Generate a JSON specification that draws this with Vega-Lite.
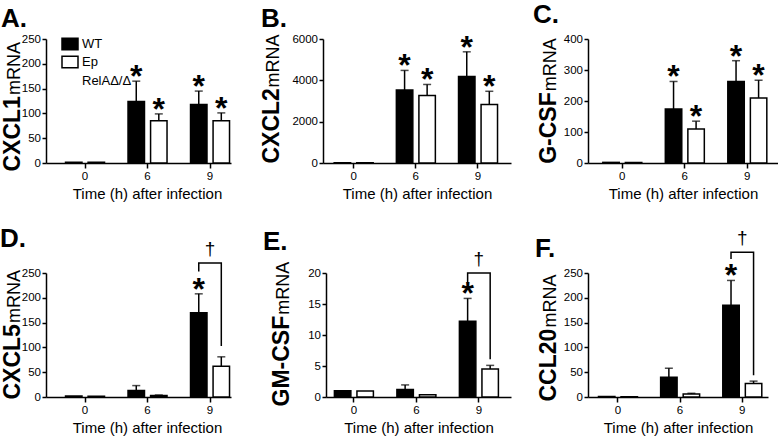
{
  "$schema": "https://vega.github.io/schema/vega-lite/v6.json",
  "padding": {"top": 1, "left": 0, "right": 0, "bottom": 0},
  "background": "white",
  "spacing": 23,
  "config": {
    "view": {"stroke": null},
    "font": "Liberation Sans",
    "axis": {"grid": false, "domainColor": "black", "domainWidth": 1.5, "tickColor": "black", "tickWidth": 1.5, "labelColor": "black", "labelFont": "Liberation Sans", "labelFontSize": 11.5, "titleColor": "black", "titleFont": "Liberation Sans"},
    "axisX": {"tickSize": 5, "labelPadding": 2, "labelAngle": 0, "titleFontSize": 15, "titleFontWeight": "normal", "titlePadding": 5},
    "axisY": {"tickSize": 4, "labelPadding": 1.5, "titleFontSize": 23, "titleFontWeight": "bold", "titleAngle": -90, "titleAlign": "left", "titleBaseline": "alphabetic"},
    "title": {"fontSize": 26, "fontWeight": "bold", "color": "black", "anchor": "start", "frame": "group", "orient": "bottom", "baseline": "alphabetic", "offset": 0}
  },
  "datasets": {
    "A": [
      {"time": "0", "group": "WT", "mean": 1.5, "up": 1.5, "star": ""},
      {"time": "0", "group": "Ep", "mean": 1.5, "up": 1.5, "star": ""},
      {"time": "6", "group": "WT", "mean": 124, "up": 165, "star": "*"},
      {"time": "6", "group": "Ep", "mean": 85, "up": 99, "star": "*"},
      {"time": "9", "group": "WT", "mean": 118, "up": 145, "star": "*"},
      {"time": "9", "group": "Ep", "mean": 85, "up": 101, "star": "*"}
    ],
    "B": [
      {"time": "0", "group": "WT", "mean": 10, "up": 10, "star": ""},
      {"time": "0", "group": "Ep", "mean": 10, "up": 10, "star": ""},
      {"time": "6", "group": "WT", "mean": 3530, "up": 4480, "star": "*"},
      {"time": "6", "group": "Ep", "mean": 3270, "up": 3800, "star": "*"},
      {"time": "9", "group": "WT", "mean": 4180, "up": 5380, "star": "*"},
      {"time": "9", "group": "Ep", "mean": 2830, "up": 3470, "star": "*"}
    ],
    "C": [
      {"time": "0", "group": "WT", "mean": 2, "up": 2, "star": ""},
      {"time": "0", "group": "Ep", "mean": 2, "up": 2, "star": ""},
      {"time": "6", "group": "WT", "mean": 174, "up": 263, "star": "*"},
      {"time": "6", "group": "Ep", "mean": 110, "up": 135, "star": "*"},
      {"time": "9", "group": "WT", "mean": 263, "up": 330, "star": "*"},
      {"time": "9", "group": "Ep", "mean": 210, "up": 267, "star": "*"}
    ],
    "D": [
      {"time": "0", "group": "WT", "mean": 2, "up": 2, "star": ""},
      {"time": "0", "group": "Ep", "mean": 1.5, "up": 1.5, "star": ""},
      {"time": "6", "group": "WT", "mean": 13, "up": 23, "star": ""},
      {"time": "6", "group": "Ep", "mean": 3, "up": 4, "star": ""},
      {"time": "9", "group": "WT", "mean": 170, "up": 208, "star": "*"},
      {"time": "9", "group": "Ep", "mean": 62, "up": 81, "star": ""}
    ],
    "E": [
      {"time": "0", "group": "WT", "mean": 1.0, "up": 1.0, "star": ""},
      {"time": "0", "group": "Ep", "mean": 0.95, "up": 0.95, "star": ""},
      {"time": "6", "group": "WT", "mean": 1.2, "up": 1.95, "star": ""},
      {"time": "6", "group": "Ep", "mean": 0.35, "up": 0.35, "star": ""},
      {"time": "9", "group": "WT", "mean": 12.2, "up": 15.9, "star": "*"},
      {"time": "9", "group": "Ep", "mean": 4.5, "up": 5.1, "star": ""}
    ],
    "F": [
      {"time": "0", "group": "WT", "mean": 1, "up": 1, "star": ""},
      {"time": "0", "group": "Ep", "mean": 0.5, "up": 0.5, "star": ""},
      {"time": "6", "group": "WT", "mean": 40, "up": 58, "star": ""},
      {"time": "6", "group": "Ep", "mean": 6, "up": 7.5, "star": ""},
      {"time": "9", "group": "WT", "mean": 185, "up": 235, "star": "*"},
      {"time": "9", "group": "Ep", "mean": 27, "up": 32, "star": ""}
    ],
    "brD": [
      {"time": "9", "group": "WT", "y": 253, "o": 1},
      {"time": "9", "group": "WT", "y": 270, "o": 2},
      {"time": "9", "group": "Ep", "y": 270, "o": 3},
      {"time": "9", "group": "Ep", "y": 103, "o": 4}
    ],
    "brE": [
      {"time": "9", "group": "WT", "y": 18.5, "o": 1},
      {"time": "9", "group": "WT", "y": 20, "o": 2},
      {"time": "9", "group": "Ep", "y": 20, "o": 3},
      {"time": "9", "group": "Ep", "y": 6.1, "o": 4}
    ],
    "brF": [
      {"time": "9", "group": "WT", "y": 278, "o": 1},
      {"time": "9", "group": "WT", "y": 292, "o": 2},
      {"time": "9", "group": "Ep", "y": 292, "o": 3},
      {"time": "9", "group": "Ep", "y": 44, "o": 4}
    ],
    "dgD": [{"time": "9", "y": 270, "mark": "†"}],
    "dgE": [{"time": "9", "y": 20, "mark": "†"}],
    "dgF": [{"time": "9", "y": 292, "mark": "†"}]
  },
  "vconcat": [
    {
      "bounds": "flush",
      "spacing": 92,
      "hconcat": [
        {
          "width": 185,
          "height": 124,
          "title": {"text": "A.", "dx": -45, "dy": -200},
          "encoding": {
            "x": {"field": "time", "type": "nominal", "sort": ["0", "6", "9"], "scale": {"paddingInner": 0.376, "paddingOuter": 0.168, "align": 0.93}, "axis": {"title": "Time (h) after infection", "titleX": 101}}
          },
          "layer": [
            {
              "data": {"name": "A"},
              "mark": {"type": "bar", "stroke": "black", "strokeWidth": 1.5},
              "encoding": {
                "xOffset": {"field": "group", "type": "nominal", "sort": ["WT", "Ep"], "scale": {"paddingInner": 0.27, "paddingOuter": 0}},
                "y": {"field": "mean", "type": "quantitative", "scale": {"domain": [0, 250], "nice": false}, "axis": {"values": [0, 50, 100, 150, 200, 250], "title": "CXCL1", "titleX": -27, "titleY": 132}},
                "fill": {
                  "field": "group", "type": "nominal",
                  "scale": {"domain": ["WT", "Ep"], "range": ["black", "white"]},
                  "legend": {"orient": "none", "legendX": 15, "legendY": -4, "title": null, "symbolType": "M-1,-0.72H1V0.72H-1Z", "symbolSize": 256, "symbolStrokeColor": "black", "symbolStrokeWidth": 1.5, "labelFontSize": 13, "labelColor": "black", "labelOffset": 3, "rowPadding": -17, "padding": 0, "labelLimit": 200, "labelExpr": "datum.label == 'Ep' ? ['Ep', 'RelAΔ/Δ'] : datum.label", "encode": {"labels": {"update": {"lineHeight": {"value": 19}}}}}
                }
              }
            },
            {
              "data": {"name": "A"},
              "transform": [{"filter": "datum.up > datum.mean"}],
              "mark": {"type": "rule", "color": "black", "strokeWidth": 1.5},
              "encoding": {
                "xOffset": {"field": "group", "type": "nominal", "sort": ["WT", "Ep"]},
                "y": {"field": "mean", "type": "quantitative", "axis": {"orient": "left", "title": "mRNA", "titleFontSize": 18, "titleFontWeight": "normal", "titleX": -27, "titleY": 55.6, "labels": false, "ticks": false, "domain": false}},
                "y2": {"field": "up"}
              }
            },
            {
              "data": {"name": "A"},
              "transform": [{"filter": "datum.up > datum.mean"}],
              "mark": {"type": "tick", "color": "black", "size": 8, "thickness": 1.5},
              "encoding": {
                "xOffset": {"field": "group", "type": "nominal", "sort": ["WT", "Ep"]},
                "y": {"field": "up", "type": "quantitative", "axis": null}
              }
            },
            {
              "data": {"name": "A"},
              "transform": [{"filter": "datum.star == '*'"}],
              "mark": {"type": "text", "fontSize": 32, "fontWeight": "bold", "baseline": "alphabetic", "dy": 6, "color": "black"},
              "encoding": {
                "xOffset": {"field": "group", "type": "nominal", "sort": ["WT", "Ep"]},
                "y": {"field": "up", "type": "quantitative", "axis": null},
                "text": {"field": "star"}
              }
            }
          ],
          "resolve": {"axis": {"y": "independent"}}
        },
        {
          "bounds": "flush",
          "spacing": 77,
          "hconcat": [
            {
              "width": 188,
              "height": 124,
              "title": {"text": "B.", "dx": -62, "dy": -200},
              "encoding": {
                "x": {"field": "time", "type": "nominal", "sort": ["0", "6", "9"], "scale": {"paddingInner": 0.376, "paddingOuter": 0.2, "align": 0.45}, "axis": {"title": "Time (h) after infection"}}
              },
              "layer": [
                {
                  "data": {"name": "B"},
                  "mark": {"type": "bar", "stroke": "black", "strokeWidth": 1.5},
                  "encoding": {
                    "xOffset": {"field": "group", "type": "nominal", "sort": ["WT", "Ep"], "scale": {"paddingInner": 0.27, "paddingOuter": 0}},
                    "y": {"field": "mean", "type": "quantitative", "scale": {"domain": [0, 6000], "nice": false}, "axis": {"values": [0, 2000, 4000, 6000], "format": "d", "title": "CXCL2", "titleX": -45, "titleY": 124}},
                    "fill": {"field": "group", "type": "nominal", "legend": null}
                  }
                },
                {
                  "data": {"name": "B"},
                  "transform": [{"filter": "datum.up > datum.mean"}],
                  "mark": {"type": "rule", "color": "black", "strokeWidth": 1.5},
                  "encoding": {
                    "xOffset": {"field": "group", "type": "nominal", "sort": ["WT", "Ep"]},
                    "y": {"field": "mean", "type": "quantitative", "axis": {"orient": "left", "title": "mRNA", "titleFontSize": 18, "titleFontWeight": "normal", "titleX": -45, "titleY": 48, "labels": false, "ticks": false, "domain": false}},
                    "y2": {"field": "up"}
                  }
                },
                {
                  "data": {"name": "B"},
                  "transform": [{"filter": "datum.up > datum.mean"}],
                  "mark": {"type": "tick", "color": "black", "size": 8, "thickness": 1.5},
                  "encoding": {
                    "xOffset": {"field": "group", "type": "nominal", "sort": ["WT", "Ep"]},
                    "y": {"field": "up", "type": "quantitative", "axis": null}
                  }
                },
                {
                  "data": {"name": "B"},
                  "transform": [{"filter": "datum.star == '*'"}],
                  "mark": {"type": "text", "fontSize": 32, "fontWeight": "bold", "baseline": "alphabetic", "dy": 6, "color": "black"},
                  "encoding": {
                    "xOffset": {"field": "group", "type": "nominal", "sort": ["WT", "Ep"]},
                    "y": {"field": "up", "type": "quantitative", "axis": null},
                    "text": {"field": "star"}
                  }
                }
              ],
              "resolve": {"axis": {"y": "independent"}}
            },
            {
              "width": 190,
              "height": 124,
              "title": {"text": "C.", "dx": -55, "dy": -204},
              "encoding": {
                "x": {"field": "time", "type": "nominal", "sort": ["0", "6", "9"], "scale": {"paddingInner": 0.376, "paddingOuter": 0.208, "align": 0.57}, "axis": {"title": "Time (h) after infection"}}
              },
              "layer": [
                {
                  "data": {"name": "C"},
                  "mark": {"type": "bar", "stroke": "black", "strokeWidth": 1.5},
                  "encoding": {
                    "xOffset": {"field": "group", "type": "nominal", "sort": ["WT", "Ep"], "scale": {"paddingInner": 0.27, "paddingOuter": 0}},
                    "y": {"field": "mean", "type": "quantitative", "scale": {"domain": [0, 400], "nice": false}, "axis": {"values": [0, 100, 200, 300, 400], "title": "G-CSF", "titleX": -33, "titleY": 124.3}},
                    "fill": {"field": "group", "type": "nominal", "legend": null}
                  }
                },
                {
                  "data": {"name": "C"},
                  "transform": [{"filter": "datum.up > datum.mean"}],
                  "mark": {"type": "rule", "color": "black", "strokeWidth": 1.5},
                  "encoding": {
                    "xOffset": {"field": "group", "type": "nominal", "sort": ["WT", "Ep"]},
                    "y": {"field": "mean", "type": "quantitative", "axis": {"orient": "left", "title": "mRNA", "titleFontSize": 18, "titleFontWeight": "normal", "titleX": -33, "titleY": 51.7, "labels": false, "ticks": false, "domain": false}},
                    "y2": {"field": "up"}
                  }
                },
                {
                  "data": {"name": "C"},
                  "transform": [{"filter": "datum.up > datum.mean"}],
                  "mark": {"type": "tick", "color": "black", "size": 8, "thickness": 1.5},
                  "encoding": {
                    "xOffset": {"field": "group", "type": "nominal", "sort": ["WT", "Ep"]},
                    "y": {"field": "up", "type": "quantitative", "axis": null}
                  }
                },
                {
                  "data": {"name": "C"},
                  "transform": [{"filter": "datum.star == '*'"}],
                  "mark": {"type": "text", "fontSize": 32, "fontWeight": "bold", "baseline": "alphabetic", "dy": 6, "color": "black"},
                  "encoding": {
                    "xOffset": {"field": "group", "type": "nominal", "sort": ["WT", "Ep"]},
                    "y": {"field": "up", "type": "quantitative", "axis": null},
                    "text": {"field": "star"}
                  }
                }
              ],
              "resolve": {"axis": {"y": "independent"}}
            }
          ]
        }
      ]
    },
    {
      "bounds": "flush",
      "spacing": 95,
      "hconcat": [
        {
          "width": 185,
          "height": 124,
          "title": {"text": "D.", "dx": -46, "dy": -214},
          "encoding": {
            "x": {"field": "time", "type": "nominal", "sort": ["0", "6", "9"], "scale": {"paddingInner": 0.376, "paddingOuter": 0.168, "align": 0.93}, "axis": {"title": "Time (h) after infection", "titleX": 101}}
          },
          "layer": [
            {
              "data": {"name": "D"},
              "mark": {"type": "bar", "stroke": "black", "strokeWidth": 1.5},
              "encoding": {
                "xOffset": {"field": "group", "type": "nominal", "sort": ["WT", "Ep"], "scale": {"paddingInner": 0.27, "paddingOuter": 0}},
                "y": {"field": "mean", "type": "quantitative", "scale": {"domain": [0, 250], "nice": false}, "axis": {"values": [0, 50, 100, 150, 200, 250], "title": "CXCL5", "titleX": -27, "titleY": 126}},
                "fill": {"field": "group", "type": "nominal", "legend": null}
              }
            },
            {
              "data": {"name": "D"},
              "transform": [{"filter": "datum.up > datum.mean"}],
              "mark": {"type": "rule", "color": "black", "strokeWidth": 1.5},
              "encoding": {
                "xOffset": {"field": "group", "type": "nominal", "sort": ["WT", "Ep"]},
                "y": {"field": "mean", "type": "quantitative", "axis": {"orient": "left", "title": "mRNA", "titleFontSize": 18, "titleFontWeight": "normal", "titleX": -27, "titleY": 49.6, "labels": false, "ticks": false, "domain": false}},
                "y2": {"field": "up"}
              }
            },
            {
              "data": {"name": "D"},
              "transform": [{"filter": "datum.up > datum.mean"}],
              "mark": {"type": "tick", "color": "black", "size": 8, "thickness": 1.5},
              "encoding": {
                "xOffset": {"field": "group", "type": "nominal", "sort": ["WT", "Ep"]},
                "y": {"field": "up", "type": "quantitative", "axis": null}
              }
            },
            {
              "data": {"name": "D"},
              "transform": [{"filter": "datum.star == '*'"}],
              "mark": {"type": "text", "fontSize": 32, "fontWeight": "bold", "baseline": "alphabetic", "dy": 6, "color": "black"},
              "encoding": {
                "xOffset": {"field": "group", "type": "nominal", "sort": ["WT", "Ep"]},
                "y": {"field": "up", "type": "quantitative", "axis": null},
                "text": {"field": "star"}
              }
            },
            {
              "data": {"name": "brD"},
              "mark": {"type": "line", "color": "black", "strokeWidth": 1.5},
              "encoding": {
                "xOffset": {"field": "group", "type": "nominal", "sort": ["WT", "Ep"]},
                "y": {"field": "y", "type": "quantitative", "axis": null},
                "order": {"field": "o"}
              }
            },
            {
              "data": {"name": "dgD"},
              "mark": {"type": "text", "fontSize": 19, "baseline": "alphabetic", "dy": -8, "color": "black"},
              "encoding": {
                "y": {"field": "y", "type": "quantitative", "axis": null},
                "text": {"field": "mark"}
              }
            }
          ],
          "resolve": {"axis": {"y": "independent"}}
        },
        {
          "bounds": "flush",
          "spacing": 77,
          "hconcat": [
            {
              "width": 185,
              "height": 124,
              "title": {"text": "E.", "dx": -63, "dy": -211},
              "encoding": {
                "x": {"field": "time", "type": "nominal", "sort": ["0", "6", "9"], "scale": {"paddingInner": 0.376, "paddingOuter": 0.168, "align": 0.4}, "axis": {"title": "Time (h) after infection"}}
              },
              "layer": [
                {
                  "data": {"name": "E"},
                  "mark": {"type": "bar", "stroke": "black", "strokeWidth": 1.5},
                  "encoding": {
                    "xOffset": {"field": "group", "type": "nominal", "sort": ["WT", "Ep"], "scale": {"paddingInner": 0.27, "paddingOuter": 0}},
                    "y": {"field": "mean", "type": "quantitative", "scale": {"domain": [0, 20], "nice": false}, "axis": {"values": [0, 5, 10, 15, 20], "title": "GM-CSF", "titleX": -38, "titleY": 133}},
                    "fill": {"field": "group", "type": "nominal", "legend": null}
                  }
                },
                {
                  "data": {"name": "E"},
                  "transform": [{"filter": "datum.up > datum.mean"}],
                  "mark": {"type": "rule", "color": "black", "strokeWidth": 1.5},
                  "encoding": {
                    "xOffset": {"field": "group", "type": "nominal", "sort": ["WT", "Ep"]},
                    "y": {"field": "mean", "type": "quantitative", "axis": {"orient": "left", "title": "mRNA", "titleFontSize": 18, "titleFontWeight": "normal", "titleX": -38, "titleY": 41.3, "labels": false, "ticks": false, "domain": false}},
                    "y2": {"field": "up"}
                  }
                },
                {
                  "data": {"name": "E"},
                  "transform": [{"filter": "datum.up > datum.mean"}],
                  "mark": {"type": "tick", "color": "black", "size": 8, "thickness": 1.5},
                  "encoding": {
                    "xOffset": {"field": "group", "type": "nominal", "sort": ["WT", "Ep"]},
                    "y": {"field": "up", "type": "quantitative", "axis": null}
                  }
                },
                {
                  "data": {"name": "E"},
                  "transform": [{"filter": "datum.star == '*'"}],
                  "mark": {"type": "text", "fontSize": 32, "fontWeight": "bold", "baseline": "alphabetic", "dy": 6, "color": "black"},
                  "encoding": {
                    "xOffset": {"field": "group", "type": "nominal", "sort": ["WT", "Ep"]},
                    "y": {"field": "up", "type": "quantitative", "axis": null},
                    "text": {"field": "star"}
                  }
                },
                {
                  "data": {"name": "brE"},
                  "mark": {"type": "line", "color": "black", "strokeWidth": 1.5},
                  "encoding": {
                    "xOffset": {"field": "group", "type": "nominal", "sort": ["WT", "Ep"]},
                    "y": {"field": "y", "type": "quantitative", "axis": null},
                    "order": {"field": "o"}
                  }
                },
                {
                  "data": {"name": "dgE"},
                  "mark": {"type": "text", "fontSize": 19, "baseline": "alphabetic", "dy": -8, "color": "black"},
                  "encoding": {
                    "y": {"field": "y", "type": "quantitative", "axis": null},
                    "text": {"field": "mark"}
                  }
                }
              ],
              "resolve": {"axis": {"y": "independent"}}
            },
            {
              "width": 180,
              "height": 124,
              "title": {"text": "F.", "dx": -53, "dy": -204},
              "encoding": {
                "x": {"field": "time", "type": "nominal", "sort": ["0", "6", "9"], "scale": {"paddingInner": 0.376, "paddingOuter": 0.136, "align": 0.62}, "axis": {"title": "Time (h) after infection"}}
              },
              "layer": [
                {
                  "data": {"name": "F"},
                  "mark": {"type": "bar", "stroke": "black", "strokeWidth": 1.5},
                  "encoding": {
                    "xOffset": {"field": "group", "type": "nominal", "sort": ["WT", "Ep"], "scale": {"paddingInner": 0.27, "paddingOuter": 0}},
                    "y": {"field": "mean", "type": "quantitative", "scale": {"domain": [0, 250], "nice": false}, "axis": {"values": [0, 50, 100, 150, 200, 250], "title": "CCL20", "titleX": -33, "titleY": 128}},
                    "fill": {"field": "group", "type": "nominal", "legend": null}
                  }
                },
                {
                  "data": {"name": "F"},
                  "transform": [{"filter": "datum.up > datum.mean"}],
                  "mark": {"type": "rule", "color": "black", "strokeWidth": 1.5},
                  "encoding": {
                    "xOffset": {"field": "group", "type": "nominal", "sort": ["WT", "Ep"]},
                    "y": {"field": "mean", "type": "quantitative", "axis": {"orient": "left", "title": "mRNA", "titleFontSize": 18, "titleFontWeight": "normal", "titleX": -33, "titleY": 54, "labels": false, "ticks": false, "domain": false}},
                    "y2": {"field": "up"}
                  }
                },
                {
                  "data": {"name": "F"},
                  "transform": [{"filter": "datum.up > datum.mean"}],
                  "mark": {"type": "tick", "color": "black", "size": 8, "thickness": 1.5},
                  "encoding": {
                    "xOffset": {"field": "group", "type": "nominal", "sort": ["WT", "Ep"]},
                    "y": {"field": "up", "type": "quantitative", "axis": null}
                  }
                },
                {
                  "data": {"name": "F"},
                  "transform": [{"filter": "datum.star == '*'"}],
                  "mark": {"type": "text", "fontSize": 32, "fontWeight": "bold", "baseline": "alphabetic", "dy": 6, "color": "black"},
                  "encoding": {
                    "xOffset": {"field": "group", "type": "nominal", "sort": ["WT", "Ep"]},
                    "y": {"field": "up", "type": "quantitative", "axis": null},
                    "text": {"field": "star"}
                  }
                },
                {
                  "data": {"name": "brF"},
                  "mark": {"type": "line", "color": "black", "strokeWidth": 1.5},
                  "encoding": {
                    "xOffset": {"field": "group", "type": "nominal", "sort": ["WT", "Ep"]},
                    "y": {"field": "y", "type": "quantitative", "axis": null},
                    "order": {"field": "o"}
                  }
                },
                {
                  "data": {"name": "dgF"},
                  "mark": {"type": "text", "fontSize": 19, "baseline": "alphabetic", "dy": -8, "color": "black"},
                  "encoding": {
                    "y": {"field": "y", "type": "quantitative", "axis": null},
                    "text": {"field": "mark"}
                  }
                }
              ],
              "resolve": {"axis": {"y": "independent"}}
            }
          ]
        }
      ]
    }
  ]
}
